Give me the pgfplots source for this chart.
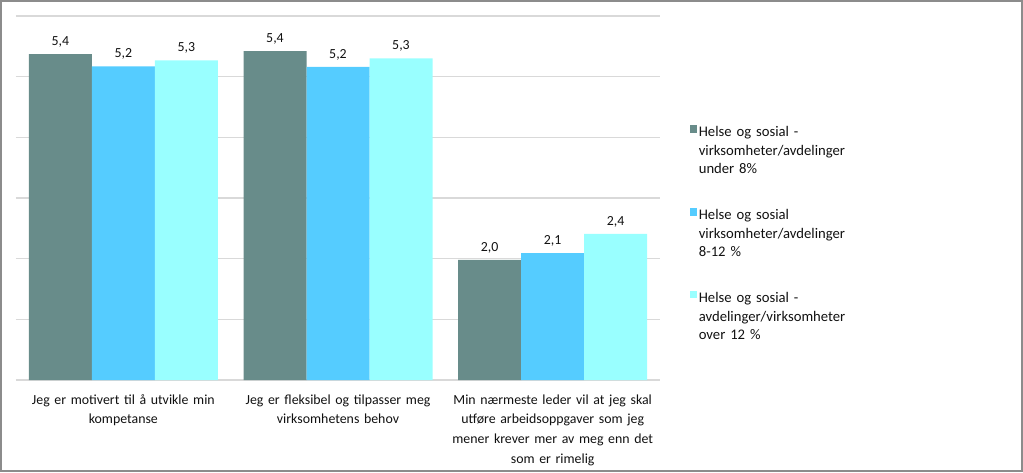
\documentclass[border=0pt]{standalone}
\usepackage{fontspec}
\setmainfont{Carlito}
\usepackage{pgfplots}
\pgfplotsset{compat=1.18}
\definecolor{c1}{HTML}{688C8A}
\definecolor{c2}{HTML}{55CCFF}
\definecolor{c3}{HTML}{99FFFF}
\definecolor{gridc}{HTML}{D9D9D9}
\definecolor{txt}{HTML}{111111}
\begin{document}
\begin{tikzpicture}[x=0.75pt,y=0.75pt]
\useasboundingbox (0,0) rectangle (1023,472);
\draw[line width=1.5pt, color=gray!90] (1,1) rectangle (1022,471);
\begin{axis}[
  at={(12pt,69pt)}, anchor=south west,
  scale only axis, width=483pt, height=273pt,
  xmin=-0.5, xmax=2.5, ymin=0, ymax=6,
  ybar=0pt, bar width=47.25pt,
  axis line style={draw=none}, tick style={draw=none},
  ytick={0,1,2,3,4,5,6}, yticklabels={},
  ymajorgrids, grid style={gridc, line width=1.1pt},
  xtick={0,1,2},
  xticklabels={{Jeg er motivert til å utvikle min\\kompetanse},
               {Jeg er fleksibel og tilpasser meg\\virksomhetens behov},
               {Min nærmeste leder vil at jeg skal\\utføre arbeidsoppgaver som jeg\\mener krever mer av meg enn det\\som er rimelig}},
  x tick label style={font=\fontsize{10.4}{14.8}\selectfont, text=txt, text width=165pt, align=center, anchor=north, yshift=-3pt},
  nodes near coords={\pgfmathprintnumber[fixed,fixed zerofill,precision=1,use comma,assume math mode=true]{\pgfplotspointmeta}},
  every node near coord/.append style={font=\fontsize{10.4}{12}\selectfont, text=txt, yshift=1.5pt},
  legend style={at={(1.04,0.708)}, anchor=north west, draw=none, fill=none,
    font=\fontsize{11}{13.9}\selectfont, text=txt, row sep=51pt,
    nodes={text width=140pt, align=left, inner sep=1pt}},
  legend cell align=left,
  legend image code/.code={\fill[#1] (-1.8pt,0pt) rectangle (3.8pt,5.6pt);},
]
\addplot[fill=c1, draw=none] coordinates {(0,5.37) (1,5.42) (2,1.98)};
\addplot[fill=c2, draw=none] coordinates {(0,5.17) (1,5.16) (2,2.09)};
\addplot[fill=c3, draw=none] coordinates {(0,5.27) (1,5.30) (2,2.41)};
\legend{{Helse og sosial -\\virksomheter/avdelinger\\under 8\%},
        {Helse og sosial\\virksomheter/avdelinger\\8-12 \%},
        {Helse og sosial -\\avdelinger/virksomheter\\over 12 \%}}
\end{axis}
\end{tikzpicture}
\end{document}
